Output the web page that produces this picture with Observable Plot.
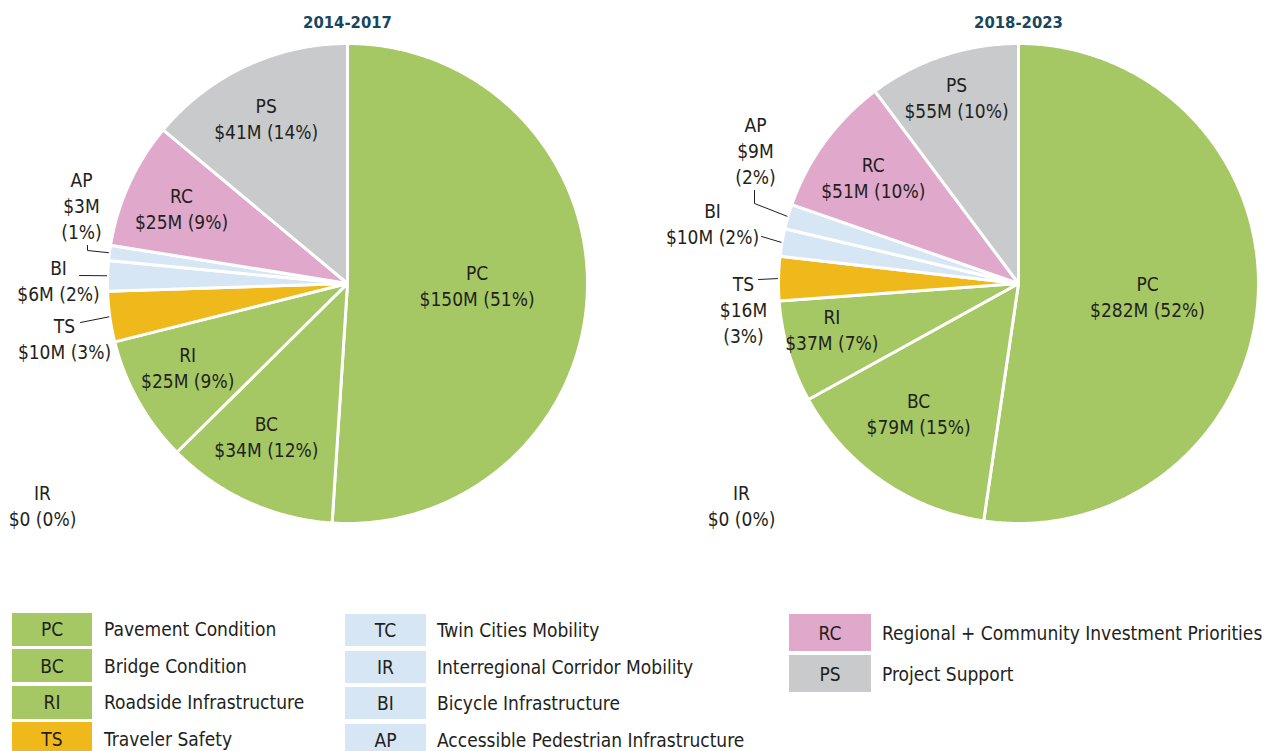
<!DOCTYPE html>
<html><head><meta charset="utf-8">
<script src="https://cdn.jsdelivr.net/npm/d3@7"></script>
<script src="https://cdn.jsdelivr.net/npm/@observablehq/plot@0.6"></script>
<style>
body{margin:0;background:#fff;}
#chart{position:relative;width:1265px;height:751px;overflow:hidden;font-family:"DejaVu Sans Condensed",Roboto,sans-serif;color:#231f20}
#legend{position:relative;width:1265px;height:151px}
.box{position:absolute;display:flex;align-items:center;justify-content:center;font-size:19px;color:#231f20}
.name{position:absolute;display:flex;align-items:center;font-size:19px;color:#231f20;white-space:nowrap}
</style></head>
<body><div id="chart"></div>
<script>
// ---- data ----
const periods = ["2014-2017", "2018-2023"];
const pieKeys = ["PC", "BC", "RI", "TS", "IR", "BI", "AP", "RC", "PS"];
const values2014 = [150, 34, 25, 10, 0, 6, 3, 25, 41];
const values2018 = [282, 79, 37, 16, 0, 10, 9, 51, 55];
const pct2014 = ["51%", "12%", "9%", "3%", "0%", "2%", "1%", "9%", "14%"];
const pct2018 = ["52%", "15%", "7%", "3%", "0%", "2%", "2%", "10%", "10%"];
const legendKeys = ["PC", "BC", "RI", "TS", "TC", "IR", "BI", "AP", "RC", "PS"];
const legendNames = ["Pavement Condition", "Bridge Condition", "Roadside Infrastructure", "Traveler Safety",
  "Twin Cities Mobility", "Interregional Corridor Mobility", "Bicycle Infrastructure",
  "Accessible Pedestrian Infrastructure", "Regional + Community Investment Priorities", "Project Support"];

// ---- styles ----
const GREEN = "#a6c864", YELLOW = "#f0b91b", BLUE = "#d6e6f4", PINK = "#e0a8ca", GREY = "#c9cacc";
const colorOf = {PC: GREEN, BC: GREEN, RI: GREEN, TS: YELLOW, TC: BLUE, IR: BLUE, BI: BLUE, AP: BLUE, RC: PINK, PS: GREY};
const TEXT = "#231f20", TITLE = "#17475f";
const FONT = '"DejaVu Sans Condensed",Roboto,sans-serif';
const FS = 19;

// ---- layout ----
const W = 1265, H = 600, R = 240;
const centers = [[347, 283], [1018, 283]];
// inside labels: radius factor and angle tweak (deg)
const inside = [
  {PC: [0.54, -1.4], BC: [0.72, 3.5], RI: [0.75, 2], RC: [0.76, 0], PS: [0.77, -1]},
  {PC: [0.54, 1.3], BC: [0.68, 3], RI: [0.8, 3], RC: [0.75, 0], PS: [0.82, 0]}
];
// outside labels: label centre offset, leader elbow points (relative to pie centre), three-line flag
const outside = [
  {AP: {at: [-266, -79], leader: [[-260, -38], [-260, -33]], three: true},
   BI: {at: [-289, -4], leader: [[-268, -8]]},
   TS: {at: [-283, 54], leader: [[-267, 39]]},
   IR: {at: [-305, 221]}},
  {AP: {at: [-263, -134], leader: [[-264, -93], [-264, -80]], three: true},
   BI: {at: [-306, -61], leader: [[-257, -47]]},
   TS: {at: [-275, 25], leader: [[-260, -4]], three: true},
   IR: {at: [-277, 221]}}
];

const pies = [values2014, values2018];
const pcts = [pct2014, pct2018];
const slices = [], labels = [], leaders = [], titles = [];
pies.forEach((vals, i) => {
  const [cx, cy] = centers[i];
  titles.push({x: cx, y: 22, text: periods[i]});
  const arcs = d3.pie().sort(null).value(d => d)(vals);
  arcs.forEach((a, j) => {
    const key = pieKeys[j];
    const money = vals[j] === 0 ? "$0" : `$${vals[j]}M`;
    const pct = `(${pcts[i][j]})`;
    if (vals[j] > 0) {
      const pts = [[cx, cy]];
      const n = Math.max(2, Math.ceil((a.endAngle - a.startAngle) / (Math.PI / 360)));
      for (let k = 0; k <= n; k++) {
        const t = a.startAngle + (a.endAngle - a.startAngle) * k / n;
        pts.push([cx + R * Math.sin(t), cy - R * Math.cos(t)]);
      }
      slices.push({key, pts});
    }
    const mid = (a.startAngle + a.endAngle) / 2;
    if (inside[i][key]) {
      const [f, tw] = inside[i][key];
      const t = mid + tw * Math.PI / 180;
      labels.push({x: cx + R * f * Math.sin(t), y: cy - R * f * Math.cos(t), text: `${key}\n${money} ${pct}`});
    } else if (outside[i][key]) {
      const o = outside[i][key];
      labels.push({x: cx + o.at[0], y: cy + o.at[1], text: o.three ? `${key}\n${money}\n${pct}` : `${key}\n${money} ${pct}`});
      if (o.leader) {
        const pts = o.leader.map(([dx, dy]) => ({id: `${i}${key}`, x: cx + dx, y: cy + dy}));
        pts.push({id: `${i}${key}`, x: cx + (R + 1) * Math.sin(mid), y: cy - (R + 1) * Math.cos(mid)});
        leaders.push(...pts);
      }
    }
  });
});

const marks = slices.map(s => Plot.line(s.pts, {
  x: d => d[0], y: d => d[1], curve: "linear-closed",
  fill: colorOf[s.key], stroke: "white", strokeWidth: 3, strokeLinejoin: "round"
}));
marks.push(Plot.line(leaders, {x: "x", y: "y", z: "id", stroke: TEXT, strokeWidth: 1}));
marks.push(Plot.text(labels, {x: "x", y: "y", text: "text", fontSize: FS, lineHeight: 26 / FS, fill: TEXT, fontFamily: FONT}));
marks.push(Plot.text(titles, {x: "x", y: "y", text: "text", fontSize: 16.5, fontWeight: "bold", fill: TITLE, fontFamily: FONT}));

const plot = Plot.plot({
  width: W, height: H, margin: 0,
  x: {domain: [0, W], range: [0, W], axis: null},
  y: {domain: [0, H], range: [0, H], axis: null},
  style: {fontFamily: FONT, background: "white"},
  marks
});
const chart = document.getElementById("chart");
chart.appendChild(plot);

// ---- legend ----
const legend = document.createElement("div");
legend.id = "legend";
const cols = [
  {box: 12, text: 104, top: 12.5, step: 36.5, h: 33, w: 80, keys: ["PC", "BC", "RI", "TS"]},
  {box: 345, text: 437, top: 14, step: 36.5, h: 32, w: 81, keys: ["TC", "IR", "BI", "AP"]},
  {box: 789, text: 882, top: 14, step: 41, h: 37, w: 82, keys: ["RC", "PS"]}
];
cols.forEach(c => c.keys.forEach((k, r) => {
  const idx = legendKeys.indexOf(k);
  const top = c.top + r * c.step;
  const b = document.createElement("div");
  b.className = "box";
  Object.assign(b.style, {left: c.box + "px", top: top + "px", width: c.w + "px", height: c.h + "px", background: colorOf[k]});
  b.textContent = k;
  const t = document.createElement("div");
  t.className = "name";
  Object.assign(t.style, {left: c.text + "px", top: top + "px", height: c.h + "px"});
  t.textContent = legendNames[idx];
  legend.appendChild(b); legend.appendChild(t);
}));
chart.appendChild(legend);
</script>
</body></html>
